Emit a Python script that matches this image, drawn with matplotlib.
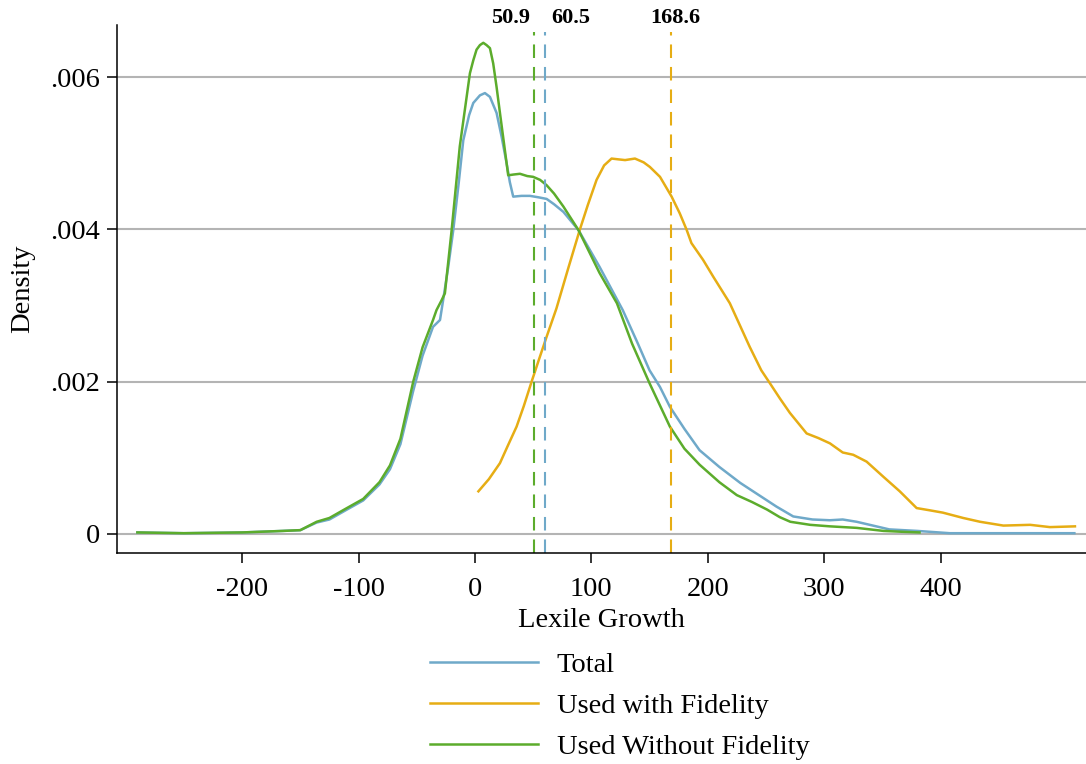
import matplotlib
matplotlib.use('Agg')
import matplotlib.pyplot as plt

plt.rcParams['font.family'] = ['Liberation Serif', 'DejaVu Serif']
plt.rcParams['axes.unicode_minus'] = False

# kernel density curves
x_total = [-290, -250, -200, -165, -150, -136, -125, -110, -96, -82, -73, -64, -53, -45, -36,
           -30, -27, -23, -18.6, -14, -10, -5, -1.4, 4.3, 8.6, 12.9, 18.6, 22.9, 27.2, 30, 32.9,
           40, 47.3, 55, 61.6, 68, 76, 89, 107, 127, 140, 150, 159, 167.5, 180, 193, 210, 228,
           245, 259, 273.5, 290, 305, 316, 328, 342, 356, 380, 408, 450, 515]
y_total = [0.00002, 0.00001, 0.00002, 0.00004, 0.00005, 0.00015, 0.00019, 0.00032, 0.00044,
           0.00065, 0.00085, 0.00118, 0.00188, 0.00234, 0.00272, 0.00281, 0.00310, 0.00350,
           0.00399, 0.00460, 0.00517, 0.00550, 0.00566, 0.00576, 0.00579, 0.00574, 0.00553,
           0.00522, 0.00487, 0.00462, 0.00443, 0.00444, 0.00444, 0.00442, 0.00440, 0.00433,
           0.00423, 0.00399, 0.00351, 0.00294, 0.00250, 0.00215, 0.00193, 0.00167, 0.00138,
           0.00110, 0.00088, 0.00067, 0.00050, 0.00036, 0.00023, 0.00019, 0.00018, 0.00019,
           0.00016, 0.00011, 0.00006, 0.00004, 0.00001, 0.00001, 0.00001]

x_fid = [3, 12, 21.5, 28, 35.8, 42, 48.7, 55, 61.6, 70, 80, 90, 97, 104.5, 111, 117.4, 123, 129,
         137.5, 145, 150.3, 159, 169, 176, 182, 186, 196, 204.7, 219, 236, 246, 253.4, 262, 270.6,
         285, 295, 305, 316, 325, 336.5, 351, 365, 379.5, 391, 402, 419.5, 434, 454, 477, 494,
         515.5]
y_fid = [0.00056, 0.00072, 0.00093, 0.00115, 0.00141, 0.00168, 0.00200, 0.00229, 0.00259,
         0.00296, 0.00348, 0.00399, 0.00432, 0.00465, 0.00484, 0.00493, 0.00492, 0.00491,
         0.00493, 0.00488, 0.00482, 0.00469, 0.00443, 0.00421, 0.00399, 0.00382, 0.00360,
         0.00338, 0.00303, 0.00246, 0.00215, 0.00198, 0.00178, 0.00159, 0.00132, 0.00126,
         0.00119, 0.00107, 0.00104, 0.00095, 0.00075, 0.00056, 0.00034, 0.00031, 0.00028,
         0.00021, 0.00016, 0.00011, 0.00012, 0.00009, 0.00010]

x_nofid = [-290, -250, -200, -165, -150, -136, -125, -110, -96, -82, -73, -64, -53, -45, -36,
           -33, -28.6, -25.8, -20, -13, -4.3, -1.4, 1.4, 4.3, 7.2, 10, 12.9, 15.7, 18.6, 21.5,
           28.6, 33, 38.7, 45, 50, 56, 61.6, 68, 76, 89, 107, 122, 135, 150, 167.5, 180, 193,
           210, 225, 238, 251, 262, 271, 288, 305, 328, 351, 365, 382]
y_nofid = [0.00002, 0.00001, 0.00002, 0.00004, 0.00005, 0.00016, 0.00021, 0.00034, 0.00046,
           0.00068, 0.00090, 0.00125, 0.00200, 0.00245, 0.00281, 0.00294, 0.00307, 0.00316,
           0.00399, 0.00509, 0.00605, 0.00622, 0.00636, 0.00642, 0.00645, 0.00642, 0.00638,
           0.00618, 0.00587, 0.00553, 0.00471, 0.00472, 0.00473, 0.00470, 0.00469, 0.00465,
           0.00458, 0.00447, 0.00430, 0.00399, 0.00343, 0.00303, 0.00250, 0.00198, 0.00141,
           0.00112, 0.00091, 0.00068, 0.00051, 0.00042, 0.00032, 0.00022, 0.00016, 0.00012,
           0.00010, 0.00008, 0.00004, 0.00003, 0.00002]

labels = ['Total', 'Used with Fidelity', 'Used Without Fidelity']
colors = ['#6fa9c9', '#e6ad14', '#5cac2c']
means = [60.5, 168.6, 50.9]
mean_text = ['60.5', '168.6', '50.9']

yticks = [0, 0.002, 0.004, 0.006]
ytick_labels = ['0', '.002', '.004', '.006']
xticks = [-200, -100, 0, 100, 200, 300, 400]

fig = plt.figure(figsize=(10.86, 7.64), dpi=100)
ax = fig.add_axes([117/1086, 1 - 553/764, 1 - 117/1086, 528/764])

ax.set_xlim(-307.5, 525)
ax.set_ylim(-0.00025, 0.006684)

for yt in yticks:
    ax.axhline(yt, color='#b4b4b4', lw=1.5, zorder=0)

l1, = ax.plot(x_total, y_total, color=colors[0], lw=1.8, label=labels[0])
l2, = ax.plot(x_fid, y_fid, color=colors[1], lw=1.8, label=labels[1])
l3, = ax.plot(x_nofid, y_nofid, color=colors[2], lw=1.8, label=labels[2])

# mean lines
offs = [(4, 'left'), (3, 'center'), (-3, 'right')]
for m, c, t, (dx, ha) in zip(means, colors, mean_text, offs):
    ax.plot([m, m], [-0.00025, 0.00659], color=c, lw=1.5, dashes=(6.5, 4.3))
    ax.annotate(t, xy=(m, 1), xycoords=('data', 'axes fraction'),
                xytext=(dx, 5), textcoords='offset points', ha=ha, va='center',
                fontsize=16, fontweight='bold', annotation_clip=False)

ax.set_yticks(yticks)
ax.set_yticklabels(ytick_labels)
ax.set_xticks(xticks)

for s in ['top', 'right']:
    ax.spines[s].set_visible(False)
ax.spines['left'].set_linewidth(1.1)
ax.spines['bottom'].set_linewidth(1.1)
ax.tick_params(axis='both', which='major', direction='out', length=7.5, width=1.1,
               labelsize=20.5, color='black')
ax.tick_params(axis='x', pad=10)
ax.tick_params(axis='y', pad=5)

ax.set_xlabel('Lexile Growth', fontsize=20.5)
ax.set_ylabel('Density', fontsize=20.5)
ax.xaxis.set_label_coords(0.5, -0.104)
ax.yaxis.set_label_coords(-0.084, 0.5)

fig.legend(handles=[l1, l2, l3], loc='center left', bbox_to_anchor=(430/1086, 1 - 706/764),
           frameon=False, fontsize=20.5, handlelength=3.8, handletextpad=0.65,
           labelspacing=0.54, borderpad=0, borderaxespad=0)

plt.savefig('out.png', dpi=100)
